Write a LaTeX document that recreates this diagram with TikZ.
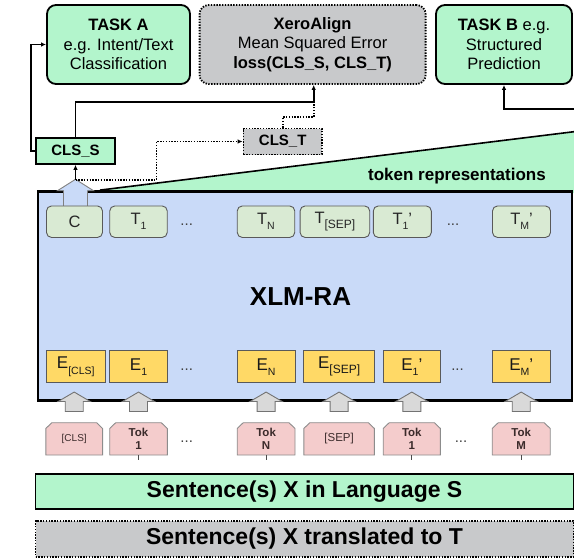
\documentclass[tikz,border=0pt]{standalone}
\usepackage{fontspec}
\setmainfont{Liberation Sans}
\usetikzlibrary{arrows.meta,calc}
\definecolor{mint}{HTML}{B3F5CC}
\definecolor{grayf}{HTML}{C8C9CB}
\definecolor{xlmblue}{HTML}{C9DAF8}
\definecolor{tgreen}{HTML}{D9EAD3}
\definecolor{eyellow}{HTML}{FFD966}
\definecolor{tokpink}{HTML}{F4CCCC}
\definecolor{arrgray}{HTML}{D9D9D9}
\definecolor{toktxt}{HTML}{3B2B2B}
\newcommand\fs[2]{\fontsize{#1}{#2}\selectfont}
\newcommand\sbs[1]{\raisebox{-0.3em}{\fontsize{10.5}{10.5}\selectfont #1}}
\newcommand\sbsep[1]{\raisebox{-0.3em}{\fontsize{12}{12}\selectfont #1}}
\newcommand\tokl[1]{\bfseries Tok\\\bfseries #1}
\begin{document}
\begin{tikzpicture}[x=1pt,y=-1pt,
  >={Latex[length=5pt,width=4.5pt]},
  conn/.style={->, line width=1.8pt, black},
  dotconn/.style={line width=1.7pt, dash pattern=on 1.4pt off 1.4pt},
  taskbox/.style={draw, line width=1.8pt, rounded corners=9pt, fill=mint, align=center, inner sep=0pt, minimum height=79pt, font=\fs{16.5}{19.5}},
  xerobox/.style={taskbox, fill=grayf, dash pattern=on 1.4pt off 1.4pt},
  clsbox/.style={draw, line width=1.6pt, inner sep=0pt, minimum height=26pt, font=\fs{15}{15}\bfseries},
  tnode/.style={draw=black!65, line width=0.9pt, rounded corners=5pt, fill=tgreen, minimum height=31.5pt, inner sep=0pt, text=black!85, font=\fs{16.5}{16.5}},
  enode/.style={draw=black!65, line width=0.9pt, fill=eyellow, minimum height=32pt, inner sep=0pt, text=black!90, font=\fs{17}{17}},
  toktext/.style={inner sep=0pt, minimum height=32.3pt, align=center, text=toktxt, font=\fs{11.5}{12.5}},
  tokshape/.style={draw=black!45, line width=0.9pt, fill=tokpink},
  dotsnode/.style={inner sep=0pt, font=\fs{15}{15}, text=black!75},
  garrow/.style={draw=black!55, line width=0.9pt, fill=arrgray},
  sentbox/.style={draw, line width=1.6pt, minimum width=538pt, inner sep=0pt, font=\fs{23}{23}\bfseries}
]
\useasboundingbox (0,0) rectangle (574,558);

% top boxes
\node[taskbox, minimum width=143pt] (taska) at (118.5,44.5) {\textbf{TASK A}\\e.g. Intent/Text\\Classification};
\node[xerobox, minimum width=226pt] (xero) at (312.6,44.5) {\textbf{XeroAlign}\\Mean Squared Error\\\textbf{loss(CLS\_S, CLS\_T)}};
\node[taskbox, minimum width=136pt] (taskb) at (504,44.5) {\textbf{TASK B} e.g.\\Structured\\Prediction};

\node[clsbox, fill=mint, minimum width=79pt] (clss) at (75.5,151) {CLS\_S};
\node[clsbox, fill=grayf, dash pattern=on 1.4pt off 1.4pt, minimum width=78.6pt] (clst) at (282.7,141.5) {CLS\_T};

% token representations wedge
\fill[mint] (100,190.1) -- (574,131.7) -- (574,193) -- (100,193) -- cycle;
\draw[line width=1.6pt] (100,190.1) -- (574,131.7);
\node[inner sep=0pt, font=\fs{17}{17}\bfseries] (tokrep) at (457,176) {token representations};

% XLM-RA box
\node[draw, line width=2.4pt, fill=xlmblue, minimum width=534pt, minimum height=209pt, inner sep=0pt] (xlm) at (305,296) {};
\node[inner sep=0pt, font=\fs{26}{26}\bfseries] (xlmlabel) at (300.5,296.7) {XLM-RA};

% block arrow C -> CLS_S
\coordinate (ctip) at (75.5,180);
\draw[line width=0.9pt, draw=black!50, fill=xlmblue] (63.5,207) -- (63.5,190.7) -- (57.5,190.7) -- (75.5,179.3) -- (93.5,190.7) -- (87.5,190.7) -- (87.5,207) -- cycle;

% T row
\node[tnode, minimum width=56pt] (tc) at (74.5,221.7) {C};
\node[tnode, minimum width=57.5pt] (t1) at (138.5,221.7) {T\sbs{1}};
\node[dotsnode] (tdots1) at (186.7,225) {...};
\node[tnode, minimum width=57.5pt] (tn) at (266,221.7) {T\sbs{N}};
\node[tnode, minimum width=69.6pt] (tsep) at (334.9,221.7) {T\sbsep{[SEP]}};
\node[tnode, minimum width=58pt] (t1p) at (402.3,221.7) {T\sbs{1}'};
\node[dotsnode] (tdots2) at (453,225) {...};
\node[tnode, minimum width=58pt] (tmp) at (521.5,221.7) {T\sbs{M}'};

% E row
\node[enode, minimum width=58.5pt] (ecls) at (75.75,366.7) {E\sbs{[CLS]}};
\node[enode, minimum width=57.5pt] (e1) at (138.5,366.7) {E\sbs{1}};
\node[dotsnode] (edots1) at (186.7,370) {...};
\node[enode, minimum width=57.8pt] (en) at (266.1,366.7) {E\sbs{N}};
\node[enode, minimum width=70.6pt] (esep) at (339.1,366.7) {E\sbsep{[SEP]}};
\node[enode, minimum width=57pt] (e1p) at (411.8,366.7) {E\sbs{1}'};
\node[dotsnode] (edots2) at (457.5,370) {...};
\node[enode, minimum width=58pt] (emp) at (521.2,366.7) {E\sbs{M}'};

% token row
\foreach \cx/\hw/\nm/\txt in {74.2/28.4/k0/{\fs{10}{11}[CLS]}, 138.5/28.8/k1/{\tokl{1}}, 266.1/28.9/kN/{\tokl{N}}, 339.1/35.3/ksep/{\fs{11.5}{12}[SEP]}, 411.8/28.6/k1p/{\tokl{1}}, 521.2/29/kM/{\tokl{M}}} {
  \draw[tokshape] ({\cx-\hw},455) -- ({\cx-\hw},428.5) -- ({\cx-\hw+6},422.7) -- ({\cx+\hw-6},422.7) -- ({\cx+\hw},428.5) -- ({\cx+\hw},455) -- cycle;
  \node[toktext] (\nm) at (\cx,438.8) {\txt};
}
\node[dotsnode] (kdots1) at (186.7,441.7) {...};
\node[dotsnode] (kdots2) at (461,441.7) {...};

\foreach \k in {k0,k1,kN,ksep,k1p,kM} {
  \draw[garrow] ($(\k.north)+(-9,-11)$) -- ++(0,-10) -- ++(-7,0) -- ++(16,-9.4) -- ++(16,9.4) -- ++(-7,0) -- ++(0,10) -- cycle;
}
\foreach \k in {k1,kN,k1p,kM} {
  \draw[line width=0.7pt, black!70] (\k.south) -- ++(0,5);
}

% sentences
\node[sentbox, fill=mint, minimum height=35pt] (sents) at (304.5,491.5) {Sentence(s) X in Language S};
\node[sentbox, fill=grayf, dash pattern=on 1.4pt off 1.4pt, minimum height=36pt] (sentt) at (304.5,538.7) {Sentence(s) X translated to T};

% connectors
\coordinate (jx) at (313.7,101.7);
\coordinate (jd) at (313.7,117);
\draw[dotconn] (clst.north) |- (jd) -- (jx);
\draw[conn] (clss.north) |- (jx) -- (xero.south -| jx);
\draw[conn] (clss.west) -- ++(-4.5,0) |- (taska.west);
\draw[conn] (ctip) -- (clss.south);
\coordinate (dbend) at (156.5,180);
\draw[dotconn, ->] (ctip) -- (dbend) |- (clst.west);
\coordinate (tbin) at (574,109);
\draw[conn] (tbin) -| (taskb.south);
\end{tikzpicture}
\end{document}
